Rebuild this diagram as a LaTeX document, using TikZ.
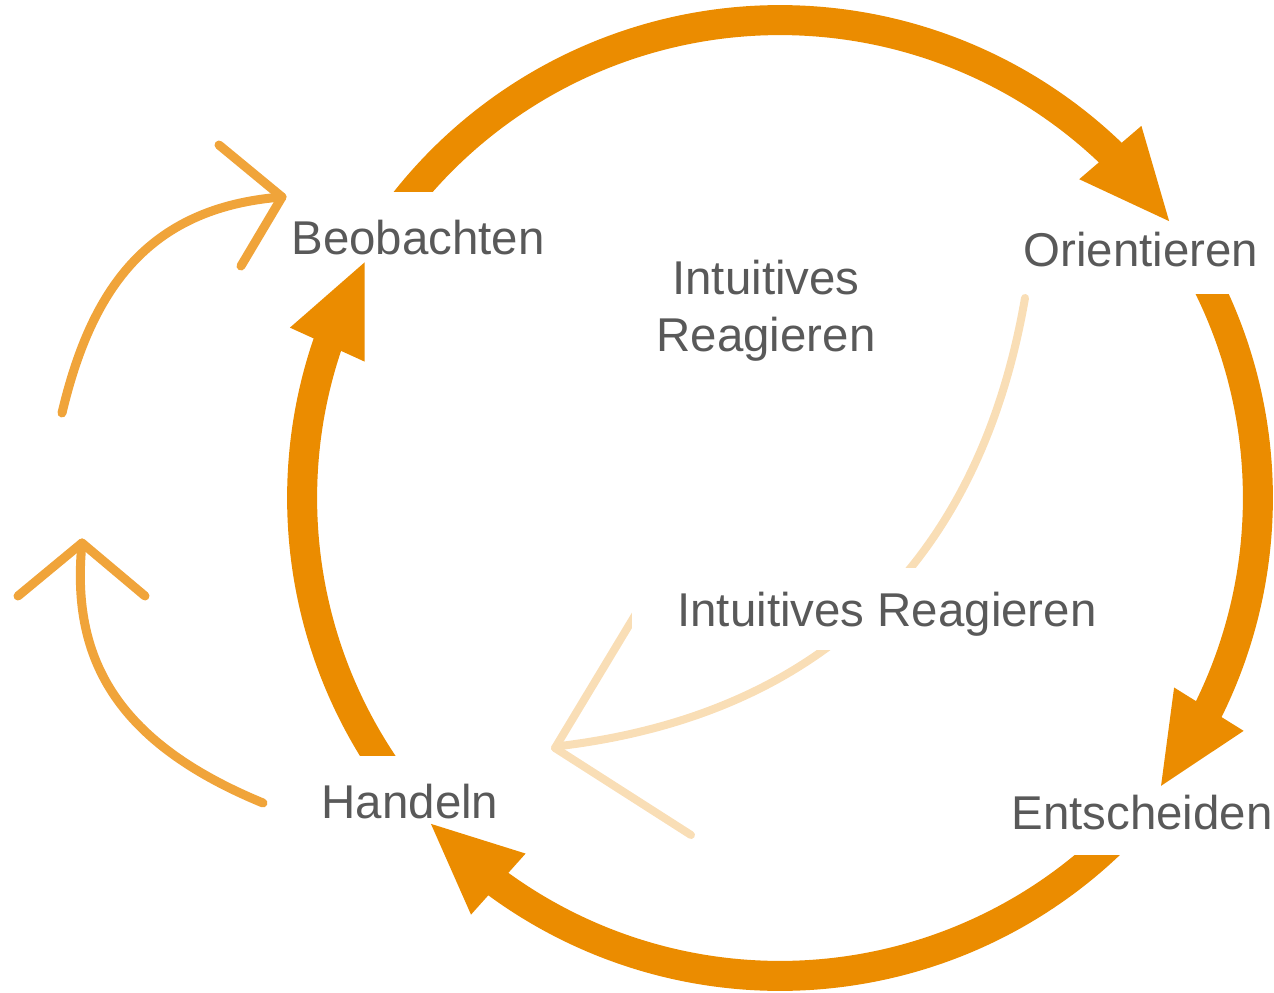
\documentclass[tikz,border=0pt]{standalone}
\usepackage{fontspec}
\setmainfont{Liberation Sans}
\usetikzlibrary{arrows.meta,bending,calc}
\definecolor{cycleorange}{RGB}{235,140,0}
\definecolor{loopamber}{RGB}{240,164,58}
\definecolor{paleorange}{RGB}{249,222,182}
\definecolor{labelgray}{RGB}{89,89,89}
\begin{document}
\begin{tikzpicture}[x=0.02cm,y=0.02cm,
  cyclearc/.style={draw=cycleorange, line width=0.6cm,
    -{Triangle[length=1.88cm,width=1.48cm,flex]}},
  loopline/.style={draw=loopamber, line width=0.18cm, line cap=round, line join=round},
  paleline/.style={draw=paleorange, line width=0.16cm, line cap=round, line join=round},
  lbl/.style={text=labelgray, font=\fontsize{27}{32.3}\selectfont, inner sep=0pt}]
\useasboundingbox (0,0) rectangle (1274,992);
\coordinate (c) at (780,494);

% main cycle: four arcs of one circle, each cut straight where it leaves its label
\begin{scope}
  \clip (0,800) -- (600,800) -- (600,0) -- (1274,0) -- (1274,992) -- (0,992) -- cycle;
  \draw[cyclearc] ($(c)+(147:9.56cm)$) arc[start angle=147, end angle=35, radius=9.56cm];
\end{scope}
\begin{scope}
  \clip (0,0) rectangle (1274,697);
  \draw[cyclearc] ($(c)+(30:9.56cm)$) arc[start angle=30, end angle=-37.5, radius=9.56cm];
\end{scope}
\begin{scope}
  \clip (0,0) -- (1274,0) -- (1274,137) -- (780,137) -- (780,992) -- (0,992) -- cycle;
  \draw[cyclearc] ($(c)+(-43:9.56cm)$) arc[start angle=-43, end angle=-137.4, radius=9.56cm];
\end{scope}
\begin{scope}
  \clip (0,237) rectangle (1274,992);
  \draw[cyclearc] ($(c)+(218:9.56cm)$) arc[start angle=218, end angle=150, radius=9.56cm];
\end{scope}

% short loops on the left
\coordinate (la0) at (62,579);
\coordinate (latip) at (282,795);
\draw[loopline] (la0) .. controls (90.5,699) and (145,784.5) .. (latip);
\draw[loopline] (219,847) -- (latip) -- (241,726);

\coordinate (lb0) at (263,189);
\coordinate (lbtip) at (82,449);
\draw[loopline] (lb0) .. controls (112.6,251) and (71,337) .. (lbtip);
\draw[loopline] (18,396) -- (lbtip) -- (145,396);

% pale shortcut from Orientieren towards Handeln
\coordinate (ps) at (1025,694);
\coordinate (ptip) at (555,244);
\draw[paleline] (ps) .. controls (980.7,437.4) and (826.9,278.4) .. (560,246) -- (ptip);
\draw[paleline] (640,385) -- (ptip) -- (691,157);

% labels
\node[lbl, fill=white, anchor=base, minimum width=10.2cm,
      text height=1.16cm, text depth=0.48cm] (react) at (887,366) {Intuitives Reagieren};
\node[lbl, anchor=base] (beob) at (418,737) {Beobachten};
\node[lbl, anchor=base] (orient) at (1141,725) {Orientieren};
\node[lbl, anchor=base] (entsch) at (1142,163) {Entscheiden};
\node[lbl, anchor=base] (handeln) at (410,174) {Handeln};
\node[lbl, align=center, anchor=base] (intu) at (766,641) {Intuitives\\Reagieren};
\end{tikzpicture}
\end{document}
